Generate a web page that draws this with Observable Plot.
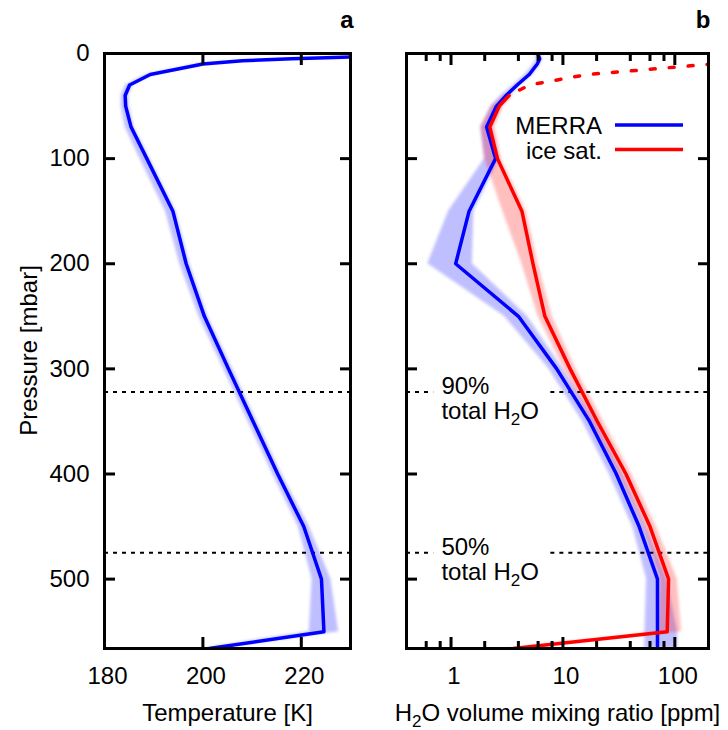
<!DOCTYPE html>
<html>
<head>
<meta charset="utf-8">
<script src="https://cdn.jsdelivr.net/npm/d3@7"></script>
<script src="https://cdn.jsdelivr.net/npm/@observablehq/plot@0.6"></script>
<style>
  body { margin: 0; background: #fff; }
  #fig { position: relative; width: 728px; height: 730px; background: #fff; }
  #fig svg { position: absolute; top: 0; }
</style>
</head>
<body>
<div id="fig"></div>
<script>
// ---- Panel a: MERRA temperature profile (K) on pressure levels (mbar) ----
const levelsT = [3, 4, 5, 7, 10, 20, 30, 40, 50, 70, 100, 150, 200, 250, 300, 350, 400, 450, 500, 550, 566];
const temperature = [233, 225, 218, 208, 200, 189.3, 185.1, 184.2, 184.3, 185.4, 188.6, 193.9, 196.6, 200.3, 205.2, 210.2, 215.2, 220.5, 224.1, 224.6, 201.3];
const temperatureLow = [232, 224, 217, 207, 199, 188.5, 184.3, 183.4, 183.4, 184.2, 187.2, 192.4, 195.3, 199.2, 204.2, 209.2, 214.2, 219.4, 222.2, 221.6, 200];
const temperatureHigh = [234, 226, 219, 209, 201, 190, 185.8, 184.9, 185, 186, 189.2, 194.5, 197.3, 201, 206, 211, 216, 221.6, 226, 227.6, 203.5];

// ---- Panel b: H2O volume mixing ratio (ppm) ----
const levelsW = [1, 5, 10, 20, 30, 40, 50, 70, 100, 150, 200, 250, 300, 350, 400, 450, 500, 550, 566];
const merraH2O = [6.0, 6.2, 5.9, 5.0, 3.9, 3.1, 2.55, 2.08, 2.5, 1.45, 1.1, 4.0, 8.8, 17.3, 30, 48, 70, 70, 70];
const merraLow = [5.6, 5.8, 5.5, 4.6, 3.6, 2.8, 2.3, 1.85, 2.0, 0.95, 0.62, 3.0, 7.5, 15, 26, 42, 56, 54, 54];
const merraHigh = [6.4, 6.6, 6.3, 5.4, 4.2, 3.4, 2.8, 2.3, 2.7, 1.6, 1.55, 4.8, 10, 19.5, 34, 55, 85, 106, 106];

const levelsIce = [40, 50, 70, 100, 150, 200, 250, 300, 350, 400, 450, 500, 550, 566];
const iceSat = [3.3, 2.7, 2.22, 2.6, 4.3, 5.4, 6.9, 11.6, 20.3, 36.6, 60, 88, 85.5, 3.6];
const iceLow = [3.0, 2.3, 1.85, 2.0, 2.9, 4.3, 6.0, 10.3, 18, 32, 53, 75, 72, 3.2];
const iceHigh = [3.6, 2.95, 2.45, 2.8, 4.7, 6.0, 8.0, 13, 23, 41, 68, 105, 115, 4.0];

// ice saturation above 40 mbar (drawn dotted)
const levelsIceUpper = [10, 20, 30, 40];
const iceSatUpper = [215, 16.5, 5.0, 3.3];

// pressure below which a given fraction of the total column water lies
const fractionLevels = [322, 475];
const fractionLabels = ["90%", "50%"];
const fractionLabelX = 0.82;        // ppm, left edge of the annotation
const fractionGap = [0.7, 7.8];     // ppm, rule is interrupted behind the annotation

// axes
const pressureDomain = [0, 566];
const pressureTicks = [100, 200, 300, 400, 500];
const pressureTickLabels = [0, 100, 200, 300, 400, 500];
const tempDomain = [180, 230];
const tempTicks = [200, 220];
const tempTickLabels = [180, 200, 220];
const h2oDomain = [0.4, 200];
const h2oMajor = [1, 10, 100];
const h2oMinor = [0.6, 0.8, 2, 4, 6, 8, 20, 40, 60, 80];

const legendLabels = ["MERRA", "ice sat."];
const legendColors = ["#0000ff", "#ff0000"];

const BLUE = "#0000ff", RED = "#ff0000";
const font = "'Liberation Sans', Arial, Helvetica, sans-serif";
const style = {fontFamily: font, fontSize: "24px", color: "black", background: "white"};

const tempRows = levelsT.map((p, i) => ({p, t: temperature[i], lo: temperatureLow[i], hi: temperatureHigh[i]}));
const merraRows = levelsW.map((p, i) => ({p, v: merraH2O[i], lo: merraLow[i], hi: merraHigh[i]}));
const iceRows = levelsIce.map((p, i) => ({p, v: iceSat[i], lo: iceLow[i], hi: iceHigh[i]}));
const iceUpperRows = levelsIceUpper.map((p, i) => ({p, v: iceSatUpper[i]}));
const fractionRows = fractionLevels.map((p, i) => ({p, label: fractionLabels[i], x: fractionLabelX}));
const fractionSegments = fractionLevels.flatMap(p => [
  {p, x1: h2oDomain[0], x2: fractionGap[0]},
  {p, x1: fractionGap[1], x2: h2oDomain[1]}
]);

const blank = () => "";

// inward ticks on the left and right edges of a panel
function pressureTickMarks() {
  return [
    Plot.axisY(pressureTicks, {anchor: "left", tickSize: 11, dx: 11, strokeWidth: 3, tickFormat: blank, label: null}),
    Plot.axisY(pressureTicks, {anchor: "right", tickSize: 11, dx: -11, strokeWidth: 3, tickFormat: blank, label: null})
  ];
}
// inward ticks on the top and bottom edges
function xTickMarks(ticks, size) {
  return [
    Plot.axisX(ticks, {anchor: "bottom", tickSize: size, dy: -size, strokeWidth: 3, tickFormat: blank, label: null}),
    Plot.axisX(ticks, {anchor: "top", tickSize: size, dy: size, strokeWidth: 3, tickFormat: blank, label: null})
  ];
}

const left = Plot.plot({
  width: 364, height: 730,
  marginLeft: 104, marginRight: 14, marginTop: 53, marginBottom: 82,
  style,
  x: {domain: tempDomain},
  y: {domain: pressureDomain, reverse: true},
  marks: [
    Plot.areaX(tempRows, {y: "p", x1: "lo", x2: "hi", fill: BLUE, fillOpacity: 0.25, clip: true}),
    Plot.ruleY(fractionLevels, {stroke: "black", strokeWidth: 2, strokeDasharray: "4,5"}),
    Plot.lineX(tempRows, {x: "t", y: "p", stroke: BLUE, strokeWidth: 3.5, clip: true}),
    Plot.frame({stroke: "black", strokeWidth: 3}),
    ...pressureTickMarks(),
    ...xTickMarks(tempTicks, 11),
    Plot.axisX(tempTickLabels, {anchor: "bottom", tickSize: 0, tickPadding: 18, dx: 3, label: null}),
    Plot.axisY(pressureTickLabels, {anchor: "left", tickSize: 0, tickPadding: 15, label: null}),
    Plot.text(["Temperature [K]"], {text: d => d, frameAnchor: "bottom", dy: 72, lineAnchor: "bottom"}),
    Plot.text(["a"], {text: d => d, frameAnchor: "top-right", dx: 3, dy: -26, textAnchor: "end", lineAnchor: "bottom", fontWeight: "bold"})
  ]
});

const right = Plot.plot({
  width: 364, height: 730,
  marginLeft: 42, marginRight: 20, marginTop: 53, marginBottom: 82,
  style,
  x: {type: "log", domain: h2oDomain},
  y: {domain: pressureDomain, reverse: true},
  marks: [
    Plot.areaX(merraRows, {y: "p", x1: "lo", x2: "hi", fill: BLUE, fillOpacity: 0.25, clip: true}),
    Plot.areaX(iceRows, {y: "p", x1: "lo", x2: "hi", fill: RED, fillOpacity: 0.25, clip: true}),
    Plot.ruleY(fractionSegments, {y: "p", x1: "x1", x2: "x2", stroke: "black", strokeWidth: 2, strokeDasharray: "4,5"}),
    Plot.lineX(merraRows, {x: "v", y: "p", stroke: BLUE, strokeWidth: 3.5, clip: true}),
    Plot.lineX(iceRows, {x: "v", y: "p", stroke: RED, strokeWidth: 3.5, clip: true}),
    Plot.lineX(iceUpperRows, {x: "v", y: "p", stroke: RED, strokeWidth: 3.5, strokeDasharray: "5,14", strokeLinecap: "round", clip: true}),
    Plot.frame({stroke: "black", strokeWidth: 3}),
    ...pressureTickMarks(),
    ...xTickMarks(h2oMajor, 11),
    ...xTickMarks(h2oMinor, 7),
    Plot.axisX(h2oMajor, {anchor: "bottom", tickSize: 0, tickPadding: 18, dx: 3, tickFormat: d => String(d), label: null}),
    Plot.text(fractionRows, {x: "x", y: "p", text: d => `${d.label}\ntotal H2O`, textAnchor: "start", lineAnchor: "top", dy: -16, lineHeight: 1.04}),
    Plot.text(["H2O volume mixing ratio [ppm]"], {text: d => d, frameAnchor: "bottom", dy: 72, lineAnchor: "bottom"}),
    Plot.text(["b"], {text: d => d, frameAnchor: "top-right", dx: 2, dy: -26, textAnchor: "end", lineAnchor: "bottom", fontWeight: "bold"})
  ]
});

const SVGNS = "http://www.w3.org/2000/svg";

// write the 2 of H2O as a subscript
function subscriptWater(svg) {
  svg.querySelectorAll("text, tspan").forEach(el => {
    for (const node of [...el.childNodes]) {
      if (node.nodeType !== 3 || !node.nodeValue.includes("H2O")) continue;
      const [before, after] = node.nodeValue.split("H2O");
      const sub = document.createElementNS(SVGNS, "tspan");
      sub.setAttribute("dy", "6");
      sub.setAttribute("font-size", "17");
      sub.textContent = "2";
      const rest = document.createElementNS(SVGNS, "tspan");
      rest.setAttribute("dy", "-6");
      rest.textContent = "O" + after;
      node.replaceWith(document.createTextNode(before + "H"), sub, rest);
    }
  });
}

// soft edges for the spread bands
function softenBands(svg, id) {
  const defs = document.createElementNS(SVGNS, "defs");
  const filter = document.createElementNS(SVGNS, "filter");
  filter.setAttribute("id", id);
  filter.setAttribute("x", "-20%"); filter.setAttribute("y", "-5%");
  filter.setAttribute("width", "140%"); filter.setAttribute("height", "110%");
  const blur = document.createElementNS(SVGNS, "feGaussianBlur");
  blur.setAttribute("stdDeviation", "1.6");
  filter.appendChild(blur);
  defs.appendChild(filter);
  svg.insertBefore(defs, svg.firstChild);
  svg.querySelectorAll('g[aria-label="area"]').forEach(g => g.setAttribute("filter", `url(#${id})`));
}

subscriptWater(right);
softenBands(left, "soft-a");
softenBands(right, "soft-b");

// vertical pressure axis title, centred on the frame of panel a
d3.select(left).append("text")
  .attr("transform", `translate(37,${53 + (730 - 53 - 82) / 2}) rotate(-90)`)
  .attr("text-anchor", "middle")
  .attr("font-family", font).attr("font-size", 24).attr("fill", "black")
  .text("Pressure [mbar]");

// legend inside panel b
const legend = d3.select(right).append("g")
  .attr("font-family", font).attr("font-size", 24).attr("fill", "black");
legendLabels.forEach((label, i) => {
  const y = 125 + i * 24.5;
  legend.append("text").attr("x", 238).attr("y", y + 9).attr("text-anchor", "end").text(label);
  legend.append("line").attr("x1", 251).attr("x2", 319).attr("y1", y).attr("y2", y)
    .attr("stroke", legendColors[i]).attr("stroke-width", 3.5);
});

left.style.left = "0px";
right.style.left = "364px";
const fig = document.getElementById("fig");
fig.appendChild(left);
fig.appendChild(right);
</script>
</body>
</html>
